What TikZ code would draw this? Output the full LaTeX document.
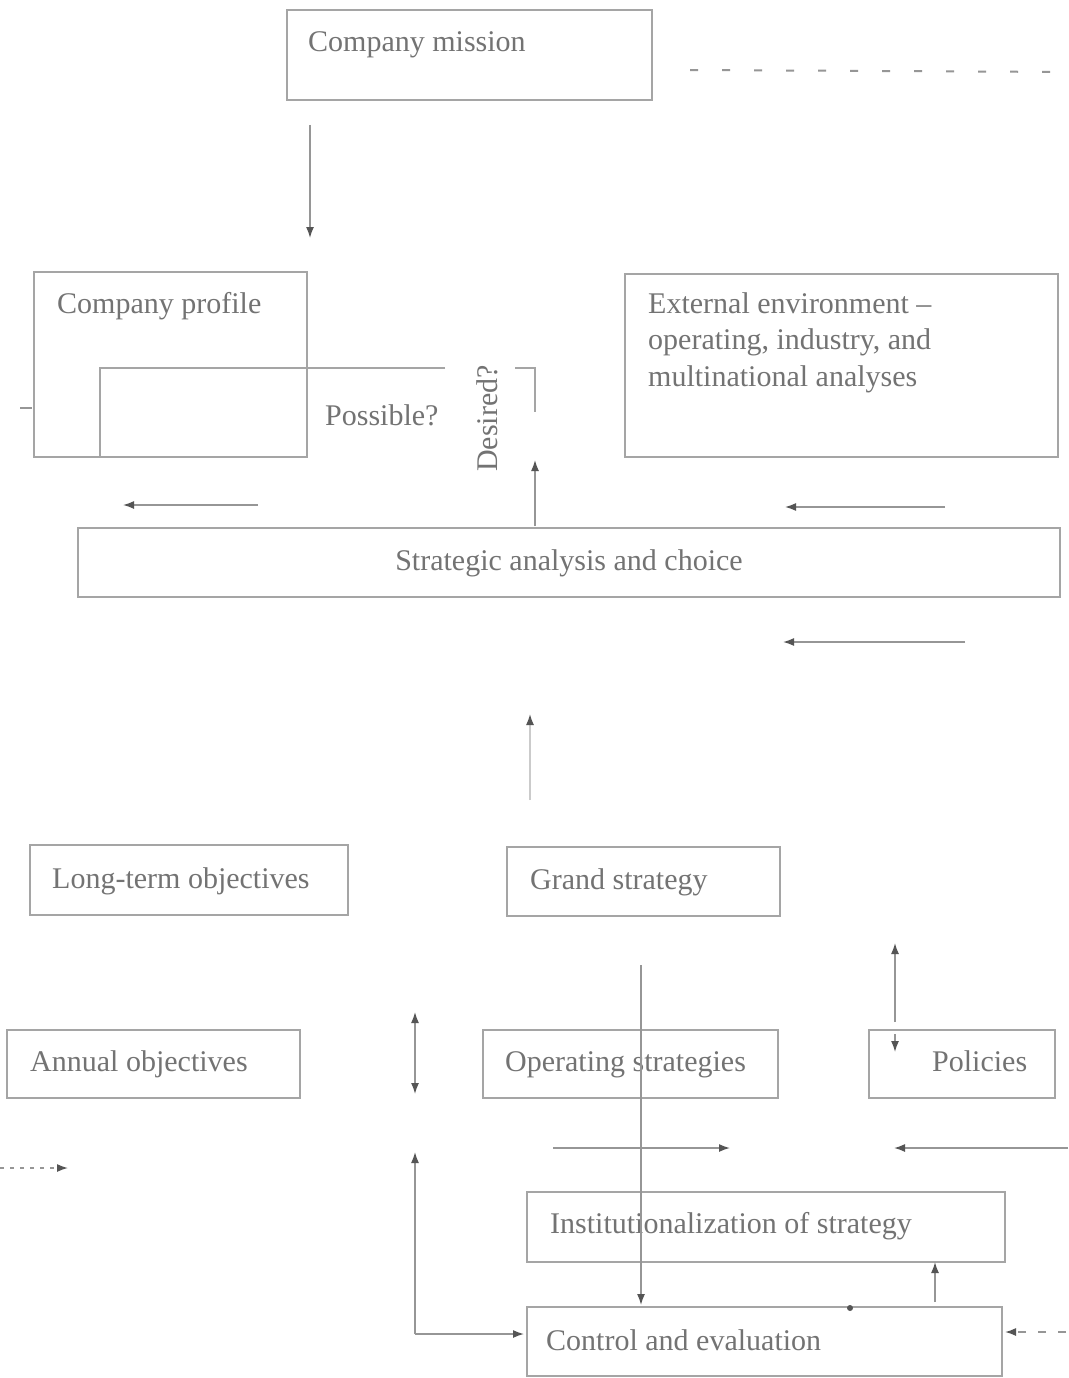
\documentclass[tikz,border=0pt]{standalone}
\usepackage{fontspec}
\setmainfont{Liberation Serif}
\usetikzlibrary{arrows.meta}
\definecolor{boxc}{RGB}{165,165,165}
\definecolor{textc}{RGB}{115,115,115}
\definecolor{linec}{RGB}{150,150,150}
\definecolor{tipc}{RGB}{85,85,85}
\tikzset{
  box/.style={draw=boxc, line width=2.2pt, inner sep=0pt, outer sep=0pt},
  lbl/.style={text=textc, font=\fontsize{30}{36.5}\selectfont, inner sep=0pt, anchor=base west},
  conn/.style={draw=linec, line width=1.5pt},
  arr/.style={conn, -{Latex[length=11pt,width=8pt,color=tipc]}},
  darr/.style={conn, {Latex[length=11pt,width=8pt,color=tipc]}-{Latex[length=11pt,width=8pt,color=tipc]}},
  dashc/.style={draw=linec, line width=2pt, dash pattern=on 8pt off 24pt}
}
\begin{document}
\begin{tikzpicture}[x=1pt,y=-1pt]
\useasboundingbox[fill=white] (0,0) rectangle (1068,1378);
% boxes
\node[box, minimum width=365, minimum height=90] (mission) at (469.5,55) {};
\node[box, minimum width=273, minimum height=185] (profile) at (170.5,364.5) {};
\node[box, minimum width=433, minimum height=183] (external) at (841.5,365.5) {};
\node[box, minimum width=982, minimum height=69] (strategic) at (569,562.5) {};
\node[box, minimum width=318, minimum height=70] (longterm) at (189,880) {};
\node[box, minimum width=273, minimum height=69] (grand) at (643.5,881.5) {};
\node[box, minimum width=293, minimum height=68] (annual) at (153.5,1064) {};
\node[box, minimum width=295, minimum height=68] (operating) at (630.5,1064) {};
\node[box, minimum width=186, minimum height=68] (policies) at (962,1064) {};
\node[box, minimum width=478, minimum height=70] (inst) at (766,1227) {};
\node[box, minimum width=475, minimum height=69] (control) at (764.5,1341.5) {};
% labels
\node[lbl] (missiont) at (308,52) {Company mission};
\node[lbl] (profilet) at (57,313) {Company profile};
\node[lbl, align=left, anchor=north west] (externalt) at (648,292) {External environment --\\operating, industry, and\\multinational analyses};
\node[lbl] (possiblet) at (325,425) {Possible?};
\node[lbl, rotate=90] (desiredt) at (497,472) {Desired?};
\node[lbl, anchor=base] (strategict) at (569,570) {Strategic analysis and choice};
\node[lbl] (longtermt) at (52,888) {Long-term objectives};
\node[lbl] (grandt) at (530,889) {Grand strategy};
\node[lbl] (annualt) at (30,1071) {Annual objectives};
\node[lbl] (operatingt) at (505,1071) {Operating strategies};
\node[lbl] (policiest) at (932,1071) {Policies};
\node[lbl] (instt) at (550,1233) {Institutionalization of strategy};
\node[lbl] (controlt) at (546,1350) {Control and evaluation};
% coordinates
\coordinate (dA) at (690,70); \coordinate (dB) at (1064,72);
\coordinate (m1) at (310,125); \coordinate (m2) at (310,238);
\coordinate (b1) at (445,368); \coordinate (b2) at (100,368); \coordinate (b3) at (100,457);
\coordinate (c1) at (515,368); \coordinate (c2) at (535,368); \coordinate (c3) at (535,412);
\coordinate (u1) at (535,526); \coordinate (u2) at (535,460);
\coordinate (t1) at (20,408); \coordinate (t2) at (32,408);
\coordinate (l1) at (258,505); \coordinate (l2) at (123,505);
\coordinate (r1) at (945,507); \coordinate (r2) at (785,507);
\coordinate (s1) at (965,642); \coordinate (s2) at (783,642);
\coordinate (g1) at (530,800); \coordinate (g2) at (530,714);
\coordinate (p1) at (895,1022); \coordinate (p2) at (895,943);
\coordinate (p3) at (895,1034); \coordinate (p4) at (895,1052);
\coordinate (a1) at (415,1094); \coordinate (a2) at (415,1012);
\coordinate (e0) at (415,1334); \coordinate (e1) at (415,1152); \coordinate (e2) at (524,1334);
\coordinate (v1) at (641,965); \coordinate (v2) at (641,1305);
\coordinate (h1) at (553,1148); \coordinate (h2) at (730,1148);
\coordinate (h3) at (1068,1148); \coordinate (h4) at (894,1148);
\coordinate (x1) at (0,1168); \coordinate (x2) at (68,1168);
\coordinate (i1) at (935,1302); \coordinate (i2) at (935,1262);
\coordinate (y1) at (1066,1332); \coordinate (y2) at (1005,1332);
\coordinate (dot) at (850,1308);
% connectors
\draw[dashc] (dA) -- (dB);
\draw[arr] (m1) -- (m2);
\draw[box] (b1) -- (b2) -- (b3);
\draw[box] (c1) -- (c2) -- (c3);
\draw[arr] (u1) -- (u2);
\draw[conn] (t1) -- (t2);
\draw[arr] (l1) -- (l2);
\draw[arr] (r1) -- (r2);
\draw[arr] (s1) -- (s2);
\draw[arr, draw=linec!50] (g1) -- (g2);
\draw[arr] (p1) -- (p2);
\draw[arr] (p3) -- (p4);
\draw[darr] (a1) -- (a2);
\draw[arr] (e0) -- (e1);
\draw[arr] (e0) -- (e2);
\draw[arr] (v1) -- (v2);
\draw[arr] (h1) -- (h2);
\draw[arr] (h3) -- (h4);
\draw[arr, dash pattern=on 4pt off 6pt] (x1) -- (x2);
\draw[arr] (i1) -- (i2);
\draw[arr, dash pattern=on 8pt off 12pt] (y1) -- (y2);
\fill[tipc] (dot) circle (3pt);
\end{tikzpicture}
\end{document}
